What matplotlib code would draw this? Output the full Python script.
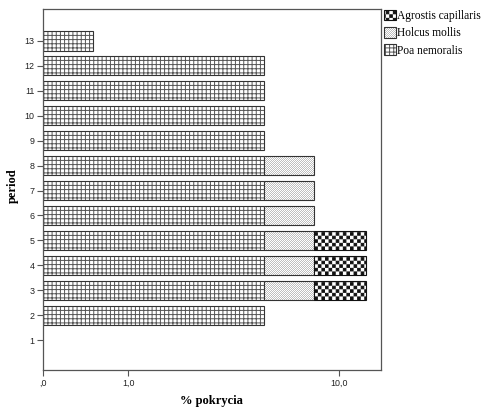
import numpy as np
import matplotlib
matplotlib.use('Agg')
import matplotlib.pyplot as plt
import matplotlib.hatch as mhatch
from matplotlib.path import Path
from matplotlib.patches import Patch

# ---- data ----
periods = list(range(1, 14))
poa = [0, 5, 5, 5, 5, 5, 5, 5, 5, 5, 5, 5, 0.5]
holcus = [0, 0, 3, 3, 3, 3, 3, 3, 0, 0, 0, 0, 0]
agrostis = [0, 0, 4.6, 4.6, 4.6, 0, 0, 0, 0, 0, 0, 0, 0]
species = ['Agrostis capillaris', 'Holcus mollis', 'Poa nemoralis']
xticks = [0, 1, 10]
xticklabels = [',0', '1,0', '10,0']

HATCH_LW = 0.7
plt.rcParams['hatch.linewidth'] = HATCH_LW


class _Checker(mhatch.HatchPatternBase):
    char = '*'
    n = 28

    def __init__(self, hatch, density):
        self.on = self.char in hatch
        self.num_vertices = (self.n * self.n // 2) * 5 if self.on else 0

    def set_vertices_and_codes(self, vertices, codes):
        n = self.n
        c = 1.0 / n
        inset = min(HATCH_LW / 72 / 2, c / 2 - 1e-6)
        k = 0
        for i in range(n):
            for j in range(n):
                if (i + j) % 2 == 0:
                    x0, y0 = i * c + inset, j * c + inset
                    x1, y1 = (i + 1) * c - inset, (j + 1) * c - inset
                    vertices[k:k + 5] = [(x0, y0), (x1, y0), (x1, y1), (x0, y1), (x0, y0)]
                    codes[k:k + 5] = [Path.MOVETO, Path.LINETO, Path.LINETO,
                                      Path.LINETO, Path.CLOSEPOLY]
                    k += 5


class _FineChecker(_Checker):
    char = 'o'
    n = 100


mhatch._hatch_types = [mhatch.HorizontalHatch, mhatch.VerticalHatch,
                       mhatch.NorthEastHatch, mhatch.SouthEastHatch,
                       _Checker, _FineChecker]

W, H = 486, 408
fig = plt.figure(figsize=(W / 100, H / 100), dpi=100)
ax_l, ax_r, ax_t, ax_b = 42.7, 380.5, 9.3, 370.0
ax = fig.add_axes([ax_l / W, (H - ax_b) / H, (ax_r - ax_l) / W, (ax_b - ax_t) / H])

ax.set_xscale('function', functions=(lambda x: np.log10(1 + np.asarray(x)),
                                     lambda y: 10 ** np.asarray(y) - 1))

EDGE = '#333333'
GRID = '#555555'
DOTS = '#929292'
bh = 0.77
y = np.array(periods)
p = np.array(poa)
h = np.array(holcus)
a = np.array(agrostis)

m = p > 0
ax.barh(y[m], p[m], height=bh, left=0, facecolor='white', edgecolor=GRID,
        linewidth=0, hatch='++++')
ax.barh(y[m], p[m], height=bh, left=0, fill=False, edgecolor=EDGE, linewidth=0.8)
m = h > 0
ax.barh(y[m], h[m], height=bh, left=p[m], facecolor='white', edgecolor=DOTS,
        linewidth=0, hatch='o')
ax.barh(y[m], h[m], height=bh, left=p[m], fill=False, edgecolor=EDGE, linewidth=0.8)
m = a > 0
ax.barh(y[m], a[m], height=bh, left=(p + h)[m], facecolor='white', edgecolor='#111111',
        linewidth=0.8, hatch='*')

ax.set_xlim(0, 14.35)
ax.set_ylim(-0.2, 14.27)
ax.set_xticks(xticks)
ax.set_xticklabels(xticklabels)
ax.set_yticks(periods)
ax.set_yticklabels([str(v) for v in periods])
ax.xaxis.set_minor_locator(matplotlib.ticker.NullLocator())
ax.yaxis.set_minor_locator(matplotlib.ticker.NullLocator())

for s in ax.spines.values():
    s.set_color('#555555')
    s.set_linewidth(0.9)
ax.tick_params(direction='out', length=4, width=0.8, color='#555555',
               labelsize=6.4, labelcolor='#222222', pad=2)
for lbl in ax.get_xticklabels() + ax.get_yticklabels():
    lbl.set_family('Liberation Sans')

ax.set_xlabel('% pokrycia', family='Liberation Serif', fontweight='bold', fontsize=9,
              va='center')
ax.xaxis.set_label_coords(0.5, (ax_b - 401) / (ax_b - ax_t))
ax.set_ylabel('period', family='Liberation Serif', fontweight='bold', fontsize=9,
              va='center')
ax.yaxis.set_label_coords((13 - ax_l) / (ax_r - ax_l), (ax_b - 186) / (ax_b - ax_t))

h_ag = Patch(facecolor='white', edgecolor='#111111', linewidth=0.8, hatch='*')
h_ho = (Patch(facecolor='white', edgecolor=DOTS, linewidth=0, hatch='o'),
        Patch(fill=False, edgecolor=EDGE, linewidth=0.8))
h_po = (Patch(facecolor='white', edgecolor=GRID, linewidth=0, hatch='++++'),
        Patch(fill=False, edgecolor=EDGE, linewidth=0.8))
leg = fig.legend([h_ag, h_ho, h_po], species, loc='upper left',
                 bbox_to_anchor=(383.5 / W, 1 - 9.5 / H), frameon=False,
                 prop={'family': 'Liberation Serif', 'size': 8.3},
                 handlelength=1.05, handleheight=1.05, handletextpad=0.15,
                 labelspacing=0.45, borderpad=0, borderaxespad=0)

fig.savefig('out.png', dpi=100)
